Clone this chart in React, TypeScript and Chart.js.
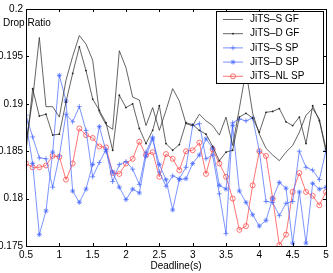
import React, { useEffect, useRef } from "react";
import { Chart, registerables } from "chart.js";

Chart.register(...registerables);

const deadlines = [0.5, 0.6, 0.7, 0.8, 0.9, 1.0, 1.1, 1.2, 1.3, 1.4, 1.5, 1.6, 1.7, 1.8, 1.9, 2.0, 2.1, 2.2, 2.3, 2.4, 2.5, 2.6, 2.7, 2.8, 2.9, 3.0, 3.1, 3.2, 3.3, 3.4, 3.5, 3.6, 3.7, 3.8, 3.9, 4.0, 4.1, 4.2, 4.3, 4.4, 4.5, 4.6, 4.7, 4.8, 4.9, 5.0];

const jitsSGF = [0.1858, 0.1905, 0.1970, 0.1897, 0.1897, 0.1886, 0.1925, 0.1950, 0.1972, 0.1963, 0.1946, 0.1891, 0.1878, 0.1873, 0.1956, 0.1938, 0.1907, 0.1904, 0.1877, 0.1896, 0.1872, 0.1893, 0.1916, 0.1903, 0.1879, 0.1877, 0.1889, 0.1882, 0.1877, 0.1867, 0.1886, 0.1856, 0.1895, 0.1935, 0.1890, 0.1868, 0.1853, 0.1846, 0.1840, 0.1849, 0.1856, 0.1870, 0.1888, 0.1895, 0.1884, 0.1849];

const jitsDGF = [0.1850, 0.1916, 0.1887, 0.1889, 0.1867, 0.1868, 0.1902, 0.1932, 0.1960, 0.1935, 0.1905, 0.1893, 0.1880, 0.1851, 0.1909, 0.1896, 0.1900, 0.1874, 0.1858, 0.1872, 0.1898, 0.1858, 0.1851, 0.1857, 0.1880, 0.1878, 0.1872, 0.1868, 0.1855, 0.1840, 0.1849, 0.1851, 0.1886, 0.1890, 0.1885, 0.1870, 0.1891, 0.1892, 0.1895, 0.1881, 0.1877, 0.1886, 0.1858, 0.1898, 0.1882, 0.1853];

const jitsSSP = [0.1888, 0.1865, 0.1843, 0.1842, 0.1812, 0.1845, 0.1889, 0.1881, 0.1897, 0.1872, 0.1823, 0.1838, 0.1852, 0.1818, 0.1836, 0.1839, 0.1831, 0.1815, 0.1849, 0.1865, 0.1828, 0.1813, 0.1824, 0.1821, 0.1833, 0.1877, 0.1879, 0.1842, 0.1846, 0.1805, 0.1763, 0.1880, 0.1884, 0.1882, 0.1885, 0.1850, 0.1797, 0.1796, 0.1782, 0.1795, 0.1797, 0.1850, 0.1833, 0.1830, 0.1820, 0.1851];

const jitsDSP = [0.1880, 0.1837, 0.1762, 0.1787, 0.1849, 0.1930, 0.1903, 0.1808, 0.1796, 0.1810, 0.1836, 0.1876, 0.1850, 0.1828, 0.1812, 0.1799, 0.1810, 0.1806, 0.1845, 0.1863, 0.1836, 0.1820, 0.1788, 0.1820, 0.1821, 0.1837, 0.1846, 0.1863, 0.1853, 0.1814, 0.1810, 0.1877, 0.1808, 0.1796, 0.1783, 0.1771, 0.1777, 0.1800, 0.1817, 0.1811, 0.1753, 0.1807, 0.1753, 0.1816, 0.1810, 0.1812];

const jitsNLSP = [0.1837, 0.1833, 0.1833, 0.1835, 0.1845, 0.1844, 0.1820, 0.1837, 0.1874, 0.1867, 0.1864, 0.1855, 0.1854, 0.1827, 0.1826, 0.1837, 0.1842, 0.1860, 0.1846, 0.1849, 0.1823, 0.1847, 0.1842, 0.1830, 0.1850, 0.1851, 0.1859, 0.1826, 0.1852, 0.1837, 0.1823, 0.1800, 0.1767, 0.1771, 0.1814, 0.1850, 0.1845, 0.1800, 0.1751, 0.1762, 0.1807, 0.1827, 0.1807, 0.1803, 0.1793, 0.1807];

const seriesNames = ["JiTS\u2013S GF", "JiTS\u2013D GF", "JiTS\u2013S SP", "JiTS\u2013D SP", "JiTS\u2013NL SP"];

const xTickValues = [0.5, 1, 1.5, 2, 2.5, 3, 3.5, 4, 4.5, 5];
const xTickLabels = ["0.5", "1", "1.5", "2", "2.5", "3", "3.5", "4", "4.5", "5"];
const yTickValues = [0.175, 0.18, 0.185, 0.19, 0.195, 0.2];
const yTickLabels = ["0.175", "0.18", "0.185", "0.19", "0.195", "0.2"];

const xTitle = "Deadline(s)";
const yTitle = "Drop Ratio";

const BLACK = "#222222";
const BLUE = "#4466ff";
const RED = "#ff3b3b";
const FONT = "'Liberation Sans', Arial, sans-serif";
const LW = 0.7;

type Marker = "none" | "dot" | "cross" | "star" | "circle";

function drawMarker(ctx: CanvasRenderingContext2D, m: Marker, x: number, y: number, color: string) {
  ctx.save();
  ctx.strokeStyle = color;
  ctx.fillStyle = color;
  ctx.lineWidth = LW;
  const r = 2.5;
  if (m === "dot") {
    ctx.beginPath();
    ctx.arc(x, y, 0.9, 0, Math.PI * 2);
    ctx.fill();
  } else if (m === "cross" || m === "star") {
    ctx.beginPath();
    ctx.moveTo(x - r, y);
    ctx.lineTo(x + r, y);
    ctx.moveTo(x, y - r);
    ctx.lineTo(x, y + r);
    if (m === "star") {
      const d = r * 0.707;
      ctx.moveTo(x - d, y - d);
      ctx.lineTo(x + d, y + d);
      ctx.moveTo(x - d, y + d);
      ctx.lineTo(x + d, y - d);
    }
    ctx.stroke();
  } else if (m === "circle") {
    ctx.beginPath();
    ctx.arc(x, y, r, 0, Math.PI * 2);
    ctx.stroke();
  }
  ctx.restore();
}

const legendMarkers: Marker[] = ["none", "dot", "cross", "star", "circle"];
const legendColors = [BLACK, BLACK, BLUE, BLUE, RED];

const framePlugin = {
  id: "matlabFrame",
  afterDatasetsDraw(chart: any) {
    const ctx: CanvasRenderingContext2D = chart.ctx;
    const { left, right, top, bottom } = chart.chartArea;
    const xs = chart.scales.x;
    const ys = chart.scales.y;
    ctx.save();
    ctx.strokeStyle = "#000";
    ctx.lineWidth = 1;
    ctx.beginPath();
    xTickValues.forEach((v) => {
      const px = Math.round(xs.getPixelForValue(v)) + 0.5;
      ctx.moveTo(px, bottom);
      ctx.lineTo(px, bottom - 3);
      ctx.moveTo(px, top);
      ctx.lineTo(px, top + 3);
    });
    yTickValues.forEach((v) => {
      const py = Math.round(ys.getPixelForValue(v)) + 0.5;
      ctx.moveTo(left, py);
      ctx.lineTo(left + 3, py);
      ctx.moveTo(right, py);
      ctx.lineTo(right - 3, py);
    });
    ctx.stroke();
    ctx.strokeRect(Math.round(left) + 0.5, Math.round(top) + 0.5, Math.round(right - left), Math.round(bottom - top));

    // legend box
    const bx = 216, by = 11, bw = 107, bh = 72;
    ctx.fillStyle = "#fff";
    ctx.fillRect(bx, by, bw, bh);
    ctx.strokeStyle = "#000";
    ctx.strokeRect(bx + 0.5, by + 0.5, bw, bh);
    ctx.font = `10px ${FONT}`;
    ctx.textBaseline = "middle";
    ctx.textAlign = "left";
    seriesNames.forEach((name, i) => {
      const ry = 19.5 + i * 14.2;
      ctx.strokeStyle = legendColors[i];
      ctx.lineWidth = LW;
      ctx.beginPath();
      ctx.moveTo(223, ry);
      ctx.lineTo(243, ry);
      ctx.stroke();
      drawMarker(ctx, legendMarkers[i], 233, ry, legendColors[i]);
      ctx.fillStyle = "#000";
      ctx.fillText(name, 250, ry);
    });

    // y label drawn horizontally at top-left
    ctx.fillStyle = "#000";
    ctx.font = `10px ${FONT}`;
    ctx.textAlign = "left";
    ctx.textBaseline = "middle";
    ctx.fillText(yTitle, 3, 23);
    ctx.restore();
  },
};

function toXY(values: number[]) {
  return values.map((v, i) => ({ x: deadlines[i], y: v }));
}

export default function App() {
  const ref = useRef<HTMLCanvasElement | null>(null);
  useEffect(() => {
    document.body.style.margin = "0";
    const canvas = ref.current;
    if (!canvas) return;
    const chart = new Chart(canvas, {
      type: "line",
      data: {
        datasets: [
          {
            label: seriesNames[0],
            data: toXY(jitsSGF),
            borderColor: BLACK,
            borderWidth: LW,
            pointRadius: 0,
          },
          {
            label: seriesNames[1],
            data: toXY(jitsDGF),
            borderColor: BLACK,
            backgroundColor: BLACK,
            borderWidth: LW,
            pointRadius: 0.9,
            pointStyle: "circle",
            pointBorderWidth: 0,
          },
          {
            label: seriesNames[2],
            data: toXY(jitsSSP),
            borderColor: BLUE,
            backgroundColor: BLUE,
            borderWidth: LW,
            pointRadius: 2.5,
            pointStyle: "cross",
            pointBorderWidth: LW,
          },
          {
            label: seriesNames[3],
            data: toXY(jitsDSP),
            borderColor: BLUE,
            backgroundColor: BLUE,
            borderWidth: LW,
            pointRadius: 2.5,
            pointStyle: "star",
            pointBorderWidth: LW,
          },
          {
            label: seriesNames[4],
            data: toXY(jitsNLSP),
            borderColor: RED,
            backgroundColor: "rgba(0,0,0,0)",
            borderWidth: LW,
            pointRadius: 2.5,
            pointStyle: "circle",
            pointBorderWidth: LW,
          },
        ],
      },
      options: {
        animation: false,
        responsive: false,
        devicePixelRatio: 1,
        events: [],
        layout: { padding: { left: 0, right: 7, top: 8, bottom: 0 } },
        plugins: {
          legend: { display: false },
          tooltip: { enabled: false },
          title: { display: false },
        },
        elements: { line: { tension: 0 } },
        scales: {
          x: {
            type: "linear",
            min: 0.5,
            max: 5,
            grid: { display: false, drawTicks: false },
            border: { display: false },
            afterBuildTicks: (s: any) => {
              s.ticks = xTickValues.map((v) => ({ value: v }));
            },
            afterFit: (s: any) => {
              s.height = 27;
            },
            ticks: {
              autoSkip: false,
              maxRotation: 0,
              minRotation: 0,
              padding: 3,
              color: "#000",
              font: { size: 10, family: FONT },
              callback: (_v: any, i: number) => xTickLabels[i],
            },
            title: {
              display: true,
              text: xTitle,
              color: "#000",
              font: { size: 10, family: FONT },
              padding: { top: 0, bottom: 1 },
            },
          },
          y: {
            type: "linear",
            min: 0.175,
            max: 0.2,
            grid: { display: false, drawTicks: false },
            border: { display: false },
            afterBuildTicks: (s: any) => {
              s.ticks = yTickValues.map((v) => ({ value: v }));
            },
            afterFit: (s: any) => {
              s.width = 26;
            },
            ticks: {
              autoSkip: false,
              padding: 3,
              color: "#000",
              font: { size: 10, family: FONT },
              callback: (_v: any, i: number) => yTickLabels[i],
            },
          },
        },
      },
      plugins: [framePlugin],
    } as any);
    return () => chart.destroy();
  }, []);
  return (
    <canvas
      ref={ref}
      width={333}
      height={273}
      style={{ position: "absolute", left: 0, top: 0, width: 333, height: 273 }}
    />
  );
}
